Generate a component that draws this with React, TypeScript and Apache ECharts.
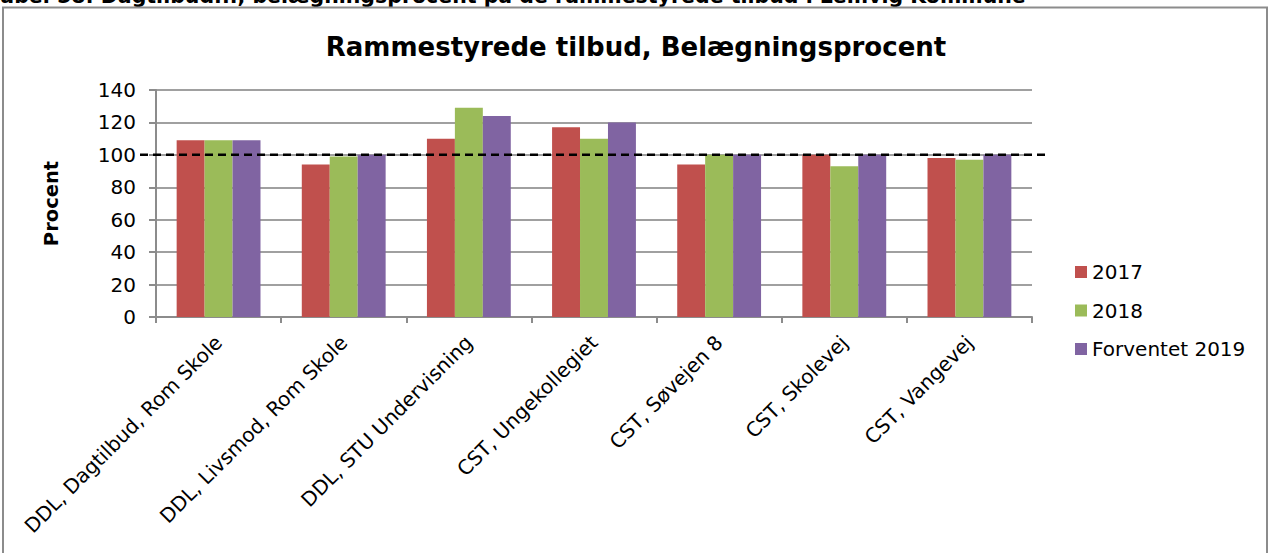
import React, { useEffect, useRef } from "react";
import * as echarts from "echarts";

const categories = [
  "DDL, Dagtilbud, Rom Skole",
  "DDL, Livsmod, Rom Skole",
  "DDL, STU Undervisning",
  "CST, Ungekollegiet",
  "CST, Søvejen 8",
  "CST, Skolevej",
  "CST, Vangevej",
];
const seriesNames = ["2017", "2018", "Forventet 2019"];
const values2017 = [109, 94, 110, 117, 94, 100, 98];
const values2018 = [109, 99, 129, 110, 100, 93, 97];
const values2019 = [109, 100, 124, 120, 100, 100, 100];
const yMin = 0;
const yMax = 140;
const yInterval = 20;
const targetLine = 100;
const chartTitle = "Rammestyrede tilbud, Belægningsprocent";
const yAxisName = "Procent";
const caption =
  "Tabel 58: Dagtilbud..., belægningsprocent på de rammestyrede tilbud i Lemvig Kommune";
const colors = ["#c0504d", "#9bbb59", "#8064a2"];

const FONT = "DejaVu Sans, Verdana, sans-serif";

export default function App() {
  const ref = useRef<HTMLDivElement>(null);
  useEffect(() => {
    if (!ref.current) return;
    const chart = echarts.init(ref.current, undefined, { renderer: "svg" });
    const seriesValues = [values2017, values2018, values2019];
    chart.setOption({
      animation: false,
      backgroundColor: "#ffffff",
      textStyle: { fontFamily: FONT, color: "#000" },
      title: {
        text: chartTitle,
        left: "center",
        top: 29,
        textStyle: { fontFamily: FONT, fontSize: 26, fontWeight: "bold", color: "#000" },
      },
      legend: {
        orient: "vertical",
        left: 1070,
        top: 257,
        itemWidth: 12,
        itemHeight: 12,
        itemGap: 18.5,
        icon: "rect",
        textStyle: { fontFamily: FONT, fontSize: 20, color: "#000" },
        data: seriesNames,
      },
      grid: { left: 156, right: 240, top: 90, bottom: 236, containLabel: false },
      xAxis: {
        type: "category",
        data: categories,
        axisLine: { lineStyle: { color: "#8c8c8c", width: 2 } },
        axisTick: { show: true, length: 6, lineStyle: { color: "#8c8c8c", width: 2 } },
        axisLabel: {
          rotate: 45,
          interval: 0,
          margin: 22,
          fontFamily: FONT,
          fontSize: 20,
          color: "#000",
        },
      },
      yAxis: {
        type: "value",
        min: yMin,
        max: yMax,
        interval: yInterval,
        name: yAxisName,
        nameLocation: "middle",
        nameRotate: 90,
        nameGap: 95,
        nameTextStyle: { fontFamily: FONT, fontSize: 19.5, fontWeight: "bold", color: "#000" },
        axisLine: { show: true, lineStyle: { color: "#8c8c8c", width: 2 } },
        axisTick: { show: true, length: 7, lineStyle: { color: "#8c8c8c", width: 2 } },
        axisLabel: { margin: 20, fontFamily: FONT, fontSize: 20, color: "#000" },
        splitLine: { show: true, lineStyle: { color: "#a0a0a0", width: 2 } },
      },
      series: seriesNames.map((name, i) => ({
        name,
        type: "bar",
        data: seriesValues[i],
        barGap: "0%",
        barCategoryGap: "33%",
        itemStyle: { color: colors[i] },
      })),
      graphic: [
        {
          id: "frame",
          type: "rect",
          shape: { x: 3, y: 7.5, width: 1264, height: 560 },
          style: { fill: "none", stroke: "#8c8c8c", lineWidth: 2 },
          z: 1,
        },
        {
          id: "caption",
          type: "text",
          x: -11,
          y: -14.5,
          style: {
            text: caption,
            font: "bold 20.5px " + FONT,
            fill: "#000",
          },
        },
      ],
    });
    const py = chart.convertToPixel({ yAxisIndex: 0 }, targetLine) as number;
    chart.setOption({
      graphic: [
        {
          id: "target",
          type: "line",
          shape: { x1: 140, y1: py, x2: 1048, y2: py },
          style: { stroke: "#000", lineWidth: 2.5, lineDash: [8, 5] },
          z: 100,
        },
      ],
    });
    return () => chart.dispose();
  }, []);
  return (
    <div style={{ position: "fixed", left: 0, top: 0, width: 1272, height: 553 }}>
      <div ref={ref} style={{ width: 1272, height: 553 }} />
    </div>
  );
}
